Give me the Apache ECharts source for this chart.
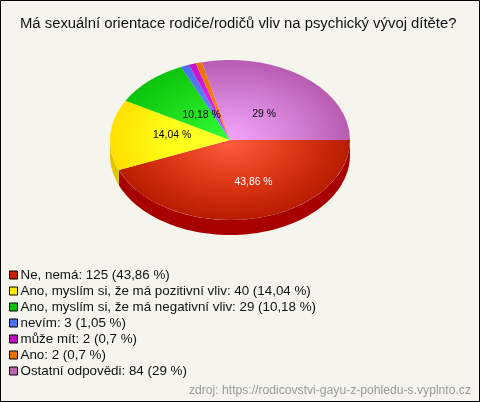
<!DOCTYPE html>
<html>
<head>
<meta charset="utf-8">
<style>html,body{margin:0;padding:0;background:#f5f5ee}#c{width:480px;height:402px}</style>
<script src="https://cdn.jsdelivr.net/npm/echarts@6/dist/echarts.min.js"></script>
</head>
<body>
<div id="c"></div>
<script>
var chartTitle = 'Má sexuální orientace rodiče/rodičů vliv na psychický vývoj dítěte?';
var sourceText = 'zdroj: https://rodicovstvi-gayu-z-pohledu-s.vyplnto.cz';
var categories = ['Ne, nemá','Ano, myslím si, že má pozitivní vliv','Ano, myslím si, že má negativní vliv','nevím','může mít','Ano','Ostatní odpovědi'];
var counts = [125,40,29,3,2,2,84];
var shareLabels = ['43,86','14,04','10,18','1,05','0,7','0,7','29'];
var sliceValues = [125,40.8,28.9,3.2,2.7,2.45,81.95];
var legendColors = ['#c42000','#ffe800','#10c010','#4870f0','#c010c0','#e87000','#c060b0'];
var centerColors = ['#ff5c40','#ffff30','#33ff33','#6a90ff','#f030f0','#ff8a18','#f4a4ff'];
var midColors = ['#e03a18','#ffff18','#20e020','#5a80f8','#dc20dc','#f47c10','#d684d8'];
var edgeColors = ['#b81c00','#ffe000','#0cc40c','#4a70f0','#c810c8','#e87000','#b85cb0'];
var wallColors = ['#a80000','#e0c800','#0a900a','#3050b0','#900890','#b05000','#804080'];
var labelOffsets = [[12,3],[2,-2],[12,5],null,null,null,[-3,6]];

var CX = 230, CY = 140, RX = 120, RY = 80, DEPTH = 15;
var total = sliceValues.reduce(function (a, b) { return a + b; }, 0);
var starts = [], acc = 0;
sliceValues.forEach(function (v) { starts.push(acc); acc += v; });
function toAngle(v) { return v / total * Math.PI * 2; }

function makeRender(i) {
  return function () {
    var a0 = toAngle(starts[i]), a1 = toAngle(starts[i] + sliceValues[i]);
    var kids = [];
    var wa0 = a0, wa1 = Math.min(a1, Math.PI);
    if (wa0 < Math.PI) {
      var pts = [], n = 80, k, t;
      for (k = 0; k <= n; k++) { t = wa0 + (wa1 - wa0) * k / n; pts.push([CX + RX * Math.cos(t), CY + RY * Math.sin(t)]); }
      for (k = n; k >= 0; k--) { t = wa0 + (wa1 - wa0) * k / n; pts.push([CX + RX * Math.cos(t), CY + DEPTH + RY * Math.sin(t)]); }
      kids.push({ type: 'polygon', shape: { points: pts }, style: { fill: wallColors[i] } });
    }
    kids.push({
      type: 'sector', x: CX, y: CY, scaleY: RY / RX,
      shape: { cx: 0, cy: 0, r0: 0, r: RX, startAngle: a0, endAngle: a1, clockwise: true },
      style: { fill: { type: 'radial', x: 0, y: 0, r: RX, global: true,
        colorStops: [{ offset: 0, color: centerColors[i] }, { offset: 0.5, color: midColors[i] }, { offset: 1, color: edgeColors[i] }] } }
    });
    var off = labelOffsets[i];
    if (off) {
      var mid = (a0 + a1) / 2;
      kids.push({ type: 'text', z2: 10, style: {
        x: CX + RX * 0.5 * Math.cos(mid) + off[0], y: CY + RY * 0.5 * Math.sin(mid) + off[1],
        text: shareLabels[i] + ' %', align: 'center', verticalAlign: 'middle',
        font: '10.4px "Liberation Sans", Arial, sans-serif', fill: i === 0 ? '#ffffff' : '#000000' } });
    }
    return { type: 'group', children: kids };
  };
}

var names = categories.map(function (c, i) { return c + ': ' + counts[i] + ' (' + shareLabels[i] + ' %)'; });
var series = names.map(function (nm, i) {
  return { type: 'custom', name: nm, coordinateSystem: 'none', silent: true, z: 2,
    itemStyle: { color: legendColors[i] }, data: [[sliceValues[i]]], renderItem: makeRender(i), animation: false };
});

var chart = echarts.init(document.getElementById('c'), null, { renderer: 'canvas' });
chart.setOption({
  animation: false,
  backgroundColor: '#f5f5ee',
  title: [
    { text: chartTitle, left: 15, top: 11,
      textStyle: { fontFamily: '"Liberation Sans", Arial', fontSize: 14.85, fontWeight: 'normal', color: '#111' } },
    { text: sourceText, right: 4, top: 380,
      textStyle: { fontFamily: '"Liberation Sans", Arial', fontSize: 12.15, fontWeight: 'normal', color: '#999' } }
  ],
  legend: {
    orient: 'vertical', left: 9, top: 267, padding: 0, itemGap: 0, itemWidth: 8, itemHeight: 8,
    icon: 'rect', selectedMode: false, data: names,
    itemStyle: { borderColor: '#000', borderWidth: 1 },
    textStyle: { fontFamily: '"Liberation Sans", Arial', fontSize: 13.36, color: '#111', lineHeight: 16, padding: [0,0,0,-2] }
  },
  graphic: [{ type: 'rect', silent: true, z: 100, shape: { x: 0.5, y: 0.5, width: 479, height: 401 },
    style: { fill: 'none', stroke: '#000', lineWidth: 1 } }],
  series: series
});
</script>
</body>
</html>
